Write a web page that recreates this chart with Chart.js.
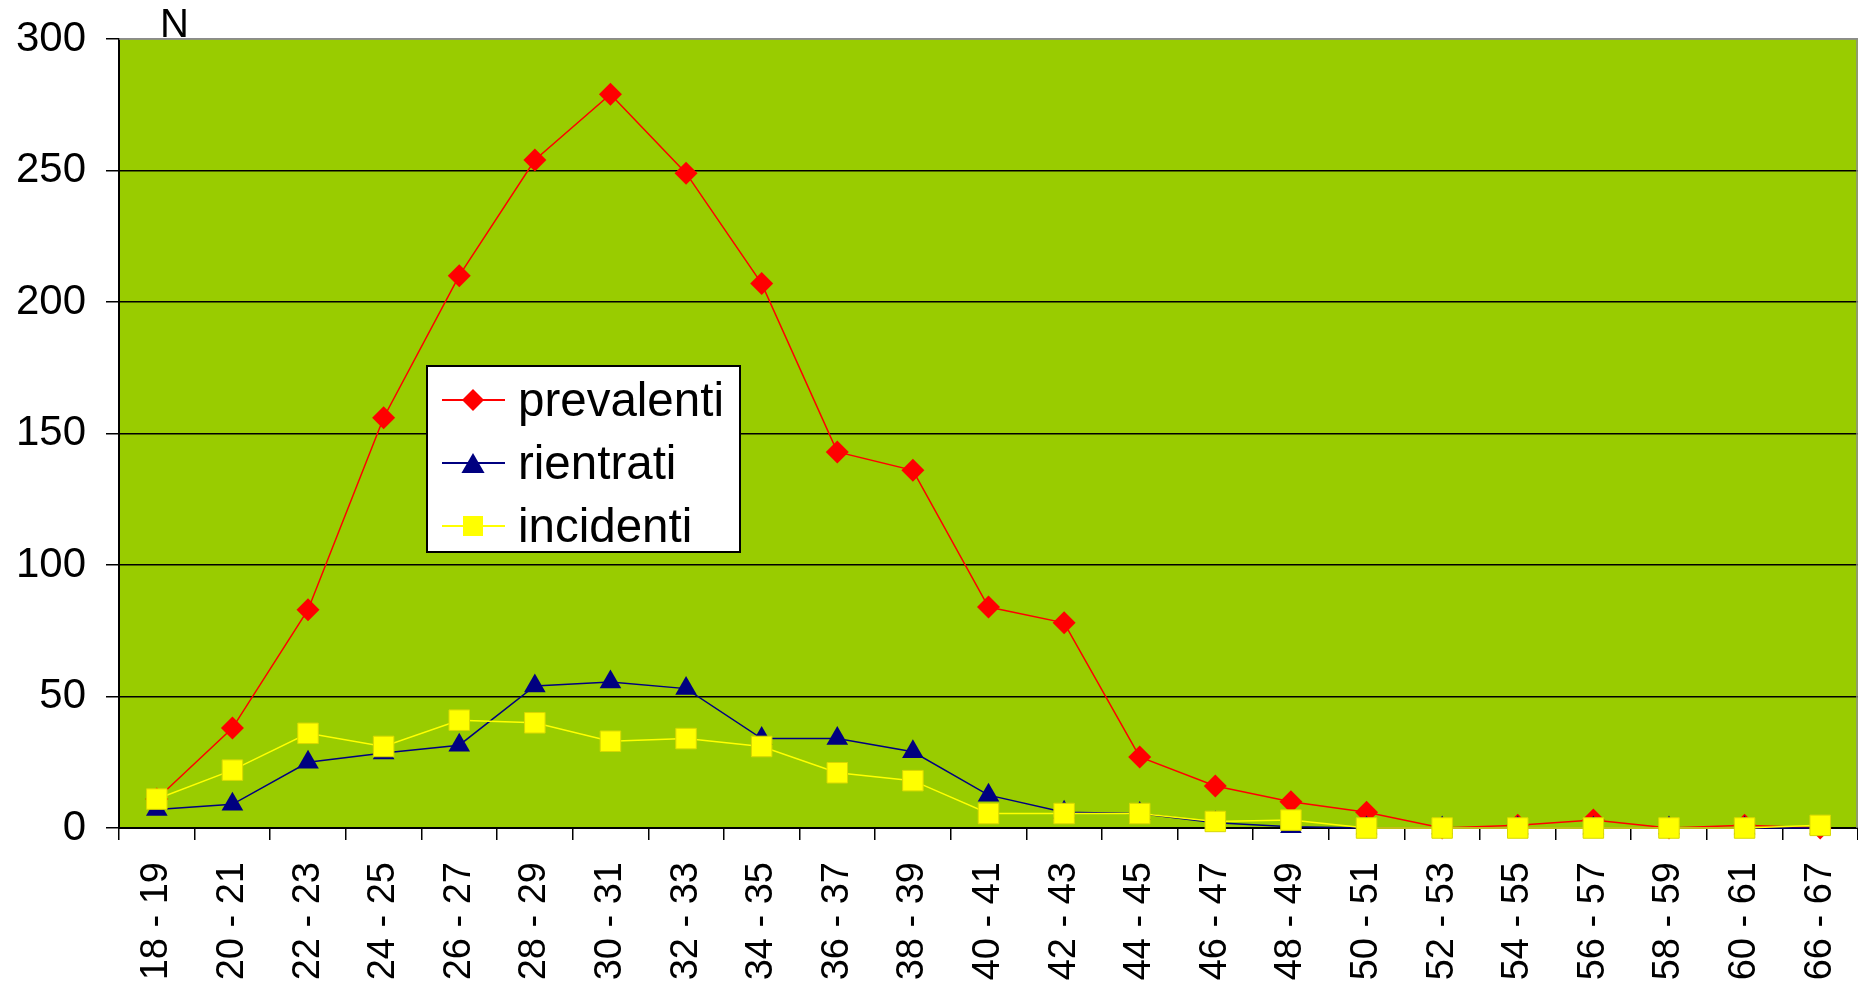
<!DOCTYPE html>
<html>
<head>
<meta charset="utf-8">
<script src="https://cdn.jsdelivr.net/npm/chart.js@4.4.0/dist/chart.umd.min.js"></script>
<style>
  html, body { margin: 0; padding: 0; background: #fff; }
  #wrap { width: 1858px; height: 983px; }
</style>
</head>
<body>
<div id="wrap"><canvas id="grafico" width="1858" height="983"></canvas></div>
<script>
// fasce d'età
const fasce = ["18 - 19", "20 - 21", "22 - 23", "24 - 25", "26 - 27", "28 - 29", "30 - 31",
  "32 - 33", "34 - 35", "36 - 37", "38 - 39", "40 - 41", "42 - 43", "44 - 45", "46 - 47",
  "48 - 49", "50 - 51", "52 - 53", "54 - 55", "56 - 57", "58 - 59", "60 - 61", "66 - 67"];

const prevalenti = [11, 38, 83, 156, 210, 254, 279, 249, 207, 143, 136, 84, 78, 27, 16, 10, 6, 0, 1, 3, 0, 1, 0];
const rientrati  = [7, 9, 25, 28.5, 31.5, 54, 55.5, 53, 34, 34, 29, 12.5, 6, 5.5, 2, 0.5, 0, 0, 0, 0, 0, 0, 0];
const incidenti  = [11, 22, 36, 31, 41, 40, 33, 34, 31, 21, 18, 5.5, 5.5, 5.5, 2.5, 3, 0, 0, 0, 0, 0, 0, 1];

const yMin = 0, yMax = 300, yStep = 50;
const yTitle = "N";

const FONT = "'Liberation Sans', Arial, sans-serif";

// sfondo verde dell'area del grafico
const sfondoPlugin = {
  id: "sfondo",
  beforeDraw(chart) {
    const { ctx, chartArea: a } = chart;
    ctx.save();
    ctx.fillStyle = "#fff";
    ctx.fillRect(0, 0, chart.width, chart.height);
    ctx.fillStyle = "#99CC00";
    ctx.fillRect(a.left, a.top, a.right - a.left, a.bottom - a.top);
    ctx.restore();
  }
};

function marker(ctx, stile, x, y, r) {
  ctx.beginPath();
  if (stile === "rombo") {
    ctx.moveTo(x, y - r); ctx.lineTo(x + r, y); ctx.lineTo(x, y + r); ctx.lineTo(x - r, y);
  } else if (stile === "triangolo") {
    ctx.moveTo(x, y - r * 0.9); ctx.lineTo(x + r * 1.05, y + r * 0.9); ctx.lineTo(x - r * 1.05, y + r * 0.9);
  } else {
    ctx.rect(x - r, y - r, 2 * r, 2 * r);
  }
  ctx.closePath();
  ctx.fill();
}

// legenda dentro il grafico + etichetta "N"
const legendaPlugin = {
  id: "legendaInterna",
  afterDraw(chart) {
    const { ctx, chartArea: a } = chart;
    ctx.save();
    // bordo superiore e destro grigio
    ctx.strokeStyle = "#8c8c8c";
    ctx.lineWidth = 1.5;
    ctx.beginPath();
    ctx.moveTo(a.left, a.top); ctx.lineTo(a.right - 1, a.top); ctx.lineTo(a.right - 1, a.bottom);
    ctx.stroke();

    ctx.fillStyle = "#000";
    ctx.font = "40px " + FONT;
    ctx.textBaseline = "alphabetic";
    ctx.fillText(yTitle, 160, 37);

    const bx = 427, by = 366, bw = 313, bh = 186;
    ctx.fillStyle = "#fff";
    ctx.fillRect(bx, by, bw, bh);
    ctx.strokeStyle = "#000";
    ctx.lineWidth = 2;
    ctx.strokeRect(bx, by, bw, bh);

    const voci = [
      { testo: "prevalenti", colore: "#FF0000", stile: "rombo", r: 11 },
      { testo: "rientrati", colore: "#000080", stile: "triangolo", r: 11 },
      { testo: "incidenti", colore: "#FFFF00", stile: "quadrato", r: 10 }
    ];
    voci.forEach((v, i) => {
      const cy = 400 + i * 63;
      ctx.strokeStyle = v.colore;
      ctx.lineWidth = 2;
      ctx.beginPath();
      ctx.moveTo(442, cy); ctx.lineTo(505, cy);
      ctx.stroke();
      ctx.fillStyle = v.colore;
      marker(ctx, v.stile, 473, cy, v.r);
      ctx.fillStyle = "#000";
      ctx.font = "47.5px " + FONT;
      ctx.fillText(v.testo, 518, cy + 16);
    });
    ctx.restore();
  }
};

const ctx = document.getElementById("grafico").getContext("2d");

new Chart(ctx, {
  type: "line",
  data: {
    labels: fasce,
    datasets: [
      {
        label: "prevalenti",
        data: prevalenti,
        borderColor: "#FF0000",
        backgroundColor: "#FF0000",
        borderWidth: 1.5,
        pointStyle: "rectRot",
        pointRadius: 11.5,
        pointBorderWidth: 0,
        order: 3
      },
      {
        label: "rientrati",
        data: rientrati,
        borderColor: "#000080",
        backgroundColor: "#000080",
        borderWidth: 1.5,
        pointStyle: "triangle",
        pointRadius: 12.5,
        pointBorderWidth: 0,
        order: 2
      },
      {
        label: "incidenti",
        data: incidenti,
        borderColor: "#FFFF00",
        backgroundColor: "#FFFF00",
        borderWidth: 1.5,
        pointStyle: "rect",
        pointRadius: 14.5,
        pointBorderColor: "#D8D800",
        pointBorderWidth: 1,
        order: 1
      }
    ]
  },
  options: {
    responsive: false,
    animation: false,
    clip: false,
    layout: { autoPadding: false, padding: { top: 39, right: 0, left: 0, bottom: 0 } },
    elements: { line: { tension: 0, fill: false } },
    plugins: {
      legend: { display: false },
      tooltip: { enabled: false }
    },
    scales: {
      x: {
        offset: true,
        grid: {
          offset: true,
          drawOnChartArea: false,
          drawTicks: true,
          tickLength: 12,
          color: "#000",
          lineWidth: 1.5
        },
        border: { display: true, color: "#000", width: 2 },
        ticks: {
          autoSkip: false,
          minRotation: 90,
          maxRotation: 90,
          padding: 22,
          color: "#000",
          font: { family: FONT, size: 38 }
        },
        afterFit(scale) {
          scale.height = 155;
          scale.paddingLeft = 0;
          scale.paddingRight = 0;
        }
      },
      y: {
        min: yMin,
        max: yMax,
        grid: {
          color: (c) => (c.tick && c.tick.value === yMax ? "#8c8c8c" : "#000"),
          lineWidth: 1.5,
          tickLength: 13,
          tickColor: "#000"
        },
        border: { display: true, color: "#000", width: 2 },
        ticks: {
          stepSize: yStep,
          padding: 20,
          color: "#000",
          font: { family: FONT, size: 42 }
        },
        afterFit(scale) {
          scale.width = 119;
          scale.paddingTop = 0;
          scale.paddingBottom = 0;
        }
      }
    }
  },
  plugins: [sfondoPlugin, legendaPlugin]
});
</script>
</body>
</html>
